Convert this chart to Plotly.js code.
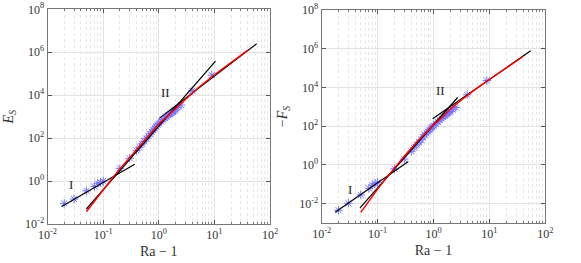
<!DOCTYPE html>
<html>
<head>
<meta charset="utf-8">
<script src="https://cdn.plot.ly/plotly-3.0.1.min.js"></script>
<style>html,body{margin:0;padding:0;background:#fff;}#plot{width:581px;height:263px;}</style>
</head>
<body>
<div id="plot"></div>
<script>
// ---- Left panel: E_S ----
const starXL = [0.02,0.03,0.05,0.07,0.08,0.09,0.1,0.2,0.3,0.4,0.45,0.5,0.55,0.6,0.65,0.7,0.75,0.8,0.85,0.9,0.95,1.0,1.1,1.2,1.3,1.4,1.5,1.6,1.7,1.8,1.9,2.0,2.2,2.5,4,9];
const starYL = [0.091,0.145,0.35,0.56,0.78,0.85,1.0,3.9,11.5,26,38,54,72,95,125,158,195,240,290,345,415,490,600,725,850,1000,1150,1320,1480,1660,1860,2040,2630,3470,15800,87000];
const redXL = [0.05,0.07,0.1,0.15,0.2,0.3,0.5,0.7,1,1.5,2,3,5,10,20,40];
const redYL = [0.037,0.117,0.38,1.48,3.7,12.6,57.5,158,457,1200,2400,6600,21000,89000,340000,1.26e6];
const fitIxL = [0.018,0.37],  fitIyL = [0.065,6.0];
const steepXL = [0.05,10.5],  steepYL = [0.05,3.9e5];
const fitIIxL = [1.02,57.5],  fitIIyL = [830,2.5e6];

// ---- Right panel: -F_S ----
const starXR = [0.02,0.03,0.05,0.07,0.08,0.09,0.1,0.2,0.3,0.4,0.45,0.5,0.55,0.6,0.65,0.7,0.75,0.8,0.85,0.9,0.95,1.0,1.1,1.2,1.3,1.4,1.5,1.6,1.7,1.8,1.9,2.0,2.2,2.5,4,9];
const starYR = [0.0046,0.0105,0.028,0.062,0.089,0.107,0.126,0.63,2.0,5.0,7.6,11,14.8,20,27.5,36,44,52,63,76,89,105,132,166,204,251,295,347,398,457,513,575,708,930,4170,22900];
const redXR = [0.05,0.07,0.1,0.15,0.2,0.3,0.5,0.7,1,1.5,2,3,5,10,20,40];
const redYR = [0.0035,0.0141,0.056,0.25,0.71,2.8,14.8,42.7,117,331,760,2000,6300,25700,100000,398000];
const fitIxR = [0.0174,0.355], fitIyR = [0.00355,1.51];
const steepXR = [0.0485,2.7],  steepYR = [0.006,3020];
const fitIIxR = [0.966,54.7],  fitIIyR = [240,7.8e5];

const xTickVals = [0.01,0.1,1,10,100];
const xTickText = ['10<sup>-2</sup>','10<sup>-1</sup>','10<sup>0</sup>','10<sup>1</sup>','10<sup>2</sup>'];
const yTickValsL = [0.01,1,100,1e4,1e6,1e8];
const yTickTextL = ['10<sup>-2</sup>','10<sup>0</sup>','10<sup>2</sup>','10<sup>4</sup>','10<sup>6</sup>','10<sup>8</sup>'];
const yTickValsR = [0.01,1,100,1e4,1e6,1e8];
const yTickTextR = ['10<sup>-2</sup>','10<sup>0</sup>','10<sup>2</sup>','10<sup>4</sup>','10<sup>6</sup>','10<sup>8</sup>'];

const starColor = '#7575ff';
function lineTrace(x,y,color,w,xa,ya){return {x:x,y:y,mode:'lines',line:{color:color,width:w},xaxis:xa,yaxis:ya,showlegend:false,hoverinfo:'skip'};}
function starTrace(x,y,xa,ya){return {x:x,y:y,mode:'markers',marker:{symbol:'asterisk-open',size:7,color:starColor,line:{color:starColor,width:1}},xaxis:xa,yaxis:ya,showlegend:false};}

const data = [
  starTrace(starXL,starYL,'x','y'),
  lineTrace(fitIxL,fitIyL,'#000',1.2,'x','y'),
  lineTrace(steepXL,steepYL,'#000',1.2,'x','y'),
  lineTrace(fitIIxL,fitIIyL,'#000',1.2,'x','y'),
  lineTrace(redXL,redYL,'#ff0000',1.4,'x','y'),
  starTrace(starXR,starYR,'x2','y2'),
  lineTrace(fitIxR,fitIyR,'#000',1.2,'x2','y2'),
  lineTrace(steepXR,steepYR,'#000',1.2,'x2','y2'),
  lineTrace(fitIIxR,fitIIyR,'#000',1.2,'x2','y2'),
  lineTrace(redXR,redYR,'#ff0000',1.4,'x2','y2')
];

const FAM = 'Liberation Serif';
const font = {family:FAM, color:'#333', size:11};
function xAxis(domain, anchor){
  return {type:'log', range:[-2,2], domain:domain, anchor:anchor,
    tickmode:'array', tickvals:xTickVals, ticktext:xTickText,
    ticks:'inside', ticklen:4, tickcolor:'#555',
    showline:true, linecolor:'#777', linewidth:1, mirror:'ticks',
    showgrid:true, gridcolor:'#e3e3e3', gridwidth:1,
    minor:{dtick:'D1', showgrid:true, gridcolor:'#e6e6e6', griddash:'dot', ticks:'inside', ticklen:2, tickcolor:'#777'},
    zeroline:false, tickfont:{family:FAM, size:12, color:'#333'},
    title:{text:'Ra − 1', font:{family:FAM, size:14, color:'#333'}, standoff:4}};
}
function yAxis(domain, anchor, range, vals, text, title){
  return {type:'log', range:range, domain:domain, anchor:anchor,
    tickmode:'array', tickvals:vals, ticktext:text,
    ticks:'inside', ticklen:4, tickcolor:'#555',
    showline:true, linecolor:'#777', linewidth:1, mirror:'ticks',
    showgrid:true, gridcolor:'#e3e3e3', gridwidth:1,
    zeroline:false, tickfont:{family:FAM, size:12, color:'#333'},
    title:{text:title, font:{family:FAM, size:14, color:'#333'}, standoff:8}};
}

const layout = {
  width:581, height:263, margin:{l:0,r:0,t:0,b:0},
  paper_bgcolor:'#fff', plot_bgcolor:'#fff', font:font, showlegend:false,
  xaxis: xAxis([47.5/581, 270/581], 'y'),
  yaxis: yAxis([1-224/263, 1-9.3/263], 'x', [-2,8], yTickValsL, yTickTextL, '<i>E</i><sub><i>S</i></sub>'),
  xaxis2: xAxis([321.7/581, 545.3/581], 'y2'),
  yaxis2: yAxis([1-223/263, 1-10/263], 'x2', [-3,8], yTickValsR, yTickTextR, '−<i>F</i><sub><i>S</i></sub>'),
  annotations:[
    {x:Math.log10(0.027), y:Math.log10(0.7), xref:'x', yref:'y', text:'I', showarrow:false, font:{family:FAM,size:13,color:'#222'}},
    {x:Math.log10(1.33), y:Math.log10(13500), xref:'x', yref:'y', text:'II', showarrow:false, font:{family:FAM,size:13,color:'#222'}},
    {x:Math.log10(0.032), y:Math.log10(0.052), xref:'x2', yref:'y2', text:'I', showarrow:false, font:{family:FAM,size:13,color:'#222'}},
    {x:Math.log10(1.33), y:Math.log10(6900), xref:'x2', yref:'y2', text:'II', showarrow:false, font:{family:FAM,size:13,color:'#222'}}
  ]
};

Plotly.newPlot('plot', data, layout, {staticPlot:true, displayModeBar:false});
</script>
</body>
</html>
